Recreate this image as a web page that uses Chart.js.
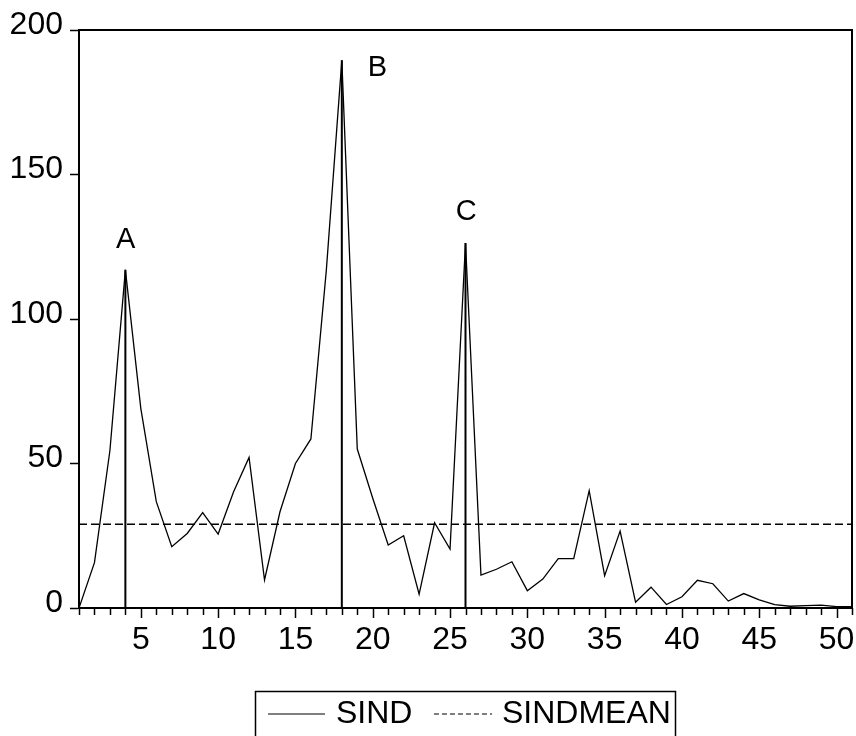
<!DOCTYPE html>
<html>
<head>
<meta charset="utf-8">
<script src="https://cdn.jsdelivr.net/npm/chart.js@4.4.0/dist/chart.umd.min.js"></script>
<style>
  html, body { margin:0; padding:0; background:#fff; }
  #wrap { width:856px; height:736px; }
</style>
</head>
<body>
<div id="wrap"><canvas id="chart" width="856" height="736"></canvas></div>
<script>
// ---- data ----
const obs = [1,2,3,4,5,6,7,8,9,10,11,12,13,14,15,16,17,18,19,20,21,22,23,24,25,
             26,27,28,29,30,31,32,33,34,35,36,37,38,39,40,41,42,43,44,45,46,47,48,49,50,51];
const sind = [0, 15.7, 54.5, 117, 69, 36.8, 21.2, 25.8, 33, 25.6, 40.2, 52.1, 9.7, 33.3, 50,
              58.5, 117, 189.5, 55, 38, 21.8, 25, 4.8, 29.5, 20.4, 126.3, 11.4, 13.4, 16, 6,
              10, 17.1, 17.1, 40.6, 11.2, 26.6, 2, 7.2, 1.2, 3.9, 9.6, 8.4, 2.4, 5, 2.8,
              1.2, 0.6, 0.8, 1.0, 0.5, 0.5];
const sindMean = 29;

// vertical markers at the three peaks
const peakX = [4, 18, 26];
const peakY = [117, 189.5, 126.3];
const peakText = ['A', 'B', 'C'];
const peakLabelX = [4.02, 20.3, 26.05];
const peakLabelY = [127.5, 186.7, 137];

const xMin = 1, xMax = 51;
const yTicks = [0, 50, 100, 150, 200];

const FONT = '"Liberation Sans", Arial, sans-serif';

// ---- extra drawing: frame, x ticks, letters, legend ----
const extras = {
  id: 'extras',
  afterDraw(chart){
    const ctx = chart.ctx;
    const a = chart.chartArea;
    const xs = chart.scales.x, ys = chart.scales.y;
    ctx.save();
    ctx.strokeStyle = '#000';

    // top and right sides of the box
    ctx.lineWidth = 2;
    ctx.beginPath();
    ctx.moveTo(a.left, a.top);
    ctx.lineTo(a.right, a.top);
    ctx.lineTo(a.right, a.bottom);
    ctx.stroke();

    // x ticks, longer every 5
    ctx.lineWidth = 1.5;
    for (let v = xMin; v <= xMax; v++) {
      const px = Math.round(xs.getPixelForValue(v)) + 0.5;
      const len = v % 5 === 0 ? 10 : 7;
      ctx.beginPath();
      ctx.moveTo(px, a.bottom);
      ctx.lineTo(px, a.bottom + len);
      ctx.stroke();
    }

    // A B C
    ctx.fillStyle = '#000';
    ctx.font = '29px ' + FONT;
    ctx.textAlign = 'center';
    ctx.textBaseline = 'middle';
    for (let i = 0; i < peakText.length; i++) {
      ctx.fillText(peakText[i], xs.getPixelForValue(peakLabelX[i]), ys.getPixelForValue(peakLabelY[i]));
    }

    // legend box
    ctx.lineWidth = 1.5;
    ctx.strokeRect(255.5, 691.5, 420, 60);
    const ly = 714;
    ctx.font = '32px ' + FONT;
    ctx.textAlign = 'left';
    ctx.lineWidth = 1;
    ctx.beginPath(); ctx.moveTo(268, ly); ctx.lineTo(325, ly); ctx.stroke();
    ctx.fillText(chart.data.datasets[0].label, 336, ly);
    ctx.setLineDash([5, 3]);
    ctx.beginPath(); ctx.moveTo(434, ly); ctx.lineTo(492, ly); ctx.stroke();
    ctx.setLineDash([]);
    ctx.fillText(chart.data.datasets[1].label, 502, ly);

    ctx.restore();
  }
};

const datasets = [
  {
    label: 'SIND',
    data: obs.map((x, i) => ({x: x, y: sind[i]})),
    borderColor: '#000',
    borderWidth: 1.3,
    pointRadius: 0,
    tension: 0
  },
  {
    label: 'SINDMEAN',
    data: [{x: xMin, y: sindMean}, {x: xMax, y: sindMean}],
    borderColor: '#000',
    borderWidth: 1.6,
    borderDash: [8, 4],
    pointRadius: 0
  }
];
peakX.forEach((px, i) => {
  datasets.push({
    label: 'peak' + peakText[i],
    data: [{x: px, y: 0}, {x: px, y: peakY[i]}],
    borderColor: '#000',
    borderWidth: 2,
    pointRadius: 0
  });
});

new Chart(document.getElementById('chart'), {
  type: 'line',
  data: { datasets: datasets },
  options: {
    responsive: false,
    animation: false,
    layout: { padding: { top: 30, right: 4, left: 0, bottom: 0 } },
    plugins: {
      legend: { display: false },
      tooltip: { enabled: false }
    },
    scales: {
      x: {
        type: 'linear',
        min: xMin,
        max: xMax,
        grid: { drawOnChartArea: false, drawTicks: true, tickLength: 10, tickColor: 'rgba(0,0,0,0)' },
        border: { display: true, color: '#000', width: 2 },
        ticks: {
          stepSize: 1,
          autoSkip: false,
          maxRotation: 0,
          color: '#000',
          font: { family: FONT, size: 32 },
          padding: 3,
          callback: v => (v % 5 === 0 ? String(v) : '')
        },
        afterFit: s => { s.height = 128; }
      },
      y: {
        min: 0,
        max: 200,
        grid: { drawOnChartArea: false, drawTicks: true, tickLength: 9, tickColor: '#000', tickWidth: 1.5 },
        border: { display: true, color: '#000', width: 2 },
        ticks: {
          stepSize: 50,
          color: '#000',
          font: { family: FONT, size: 32 },
          padding: 7,
          labelOffset: -5,
          callback: v => (yTicks.includes(v) ? String(v) : '')
        },
        afterFit: s => { s.width = 79; }
      }
    }
  },
  plugins: [extras]
});
</script>
</body>
</html>
